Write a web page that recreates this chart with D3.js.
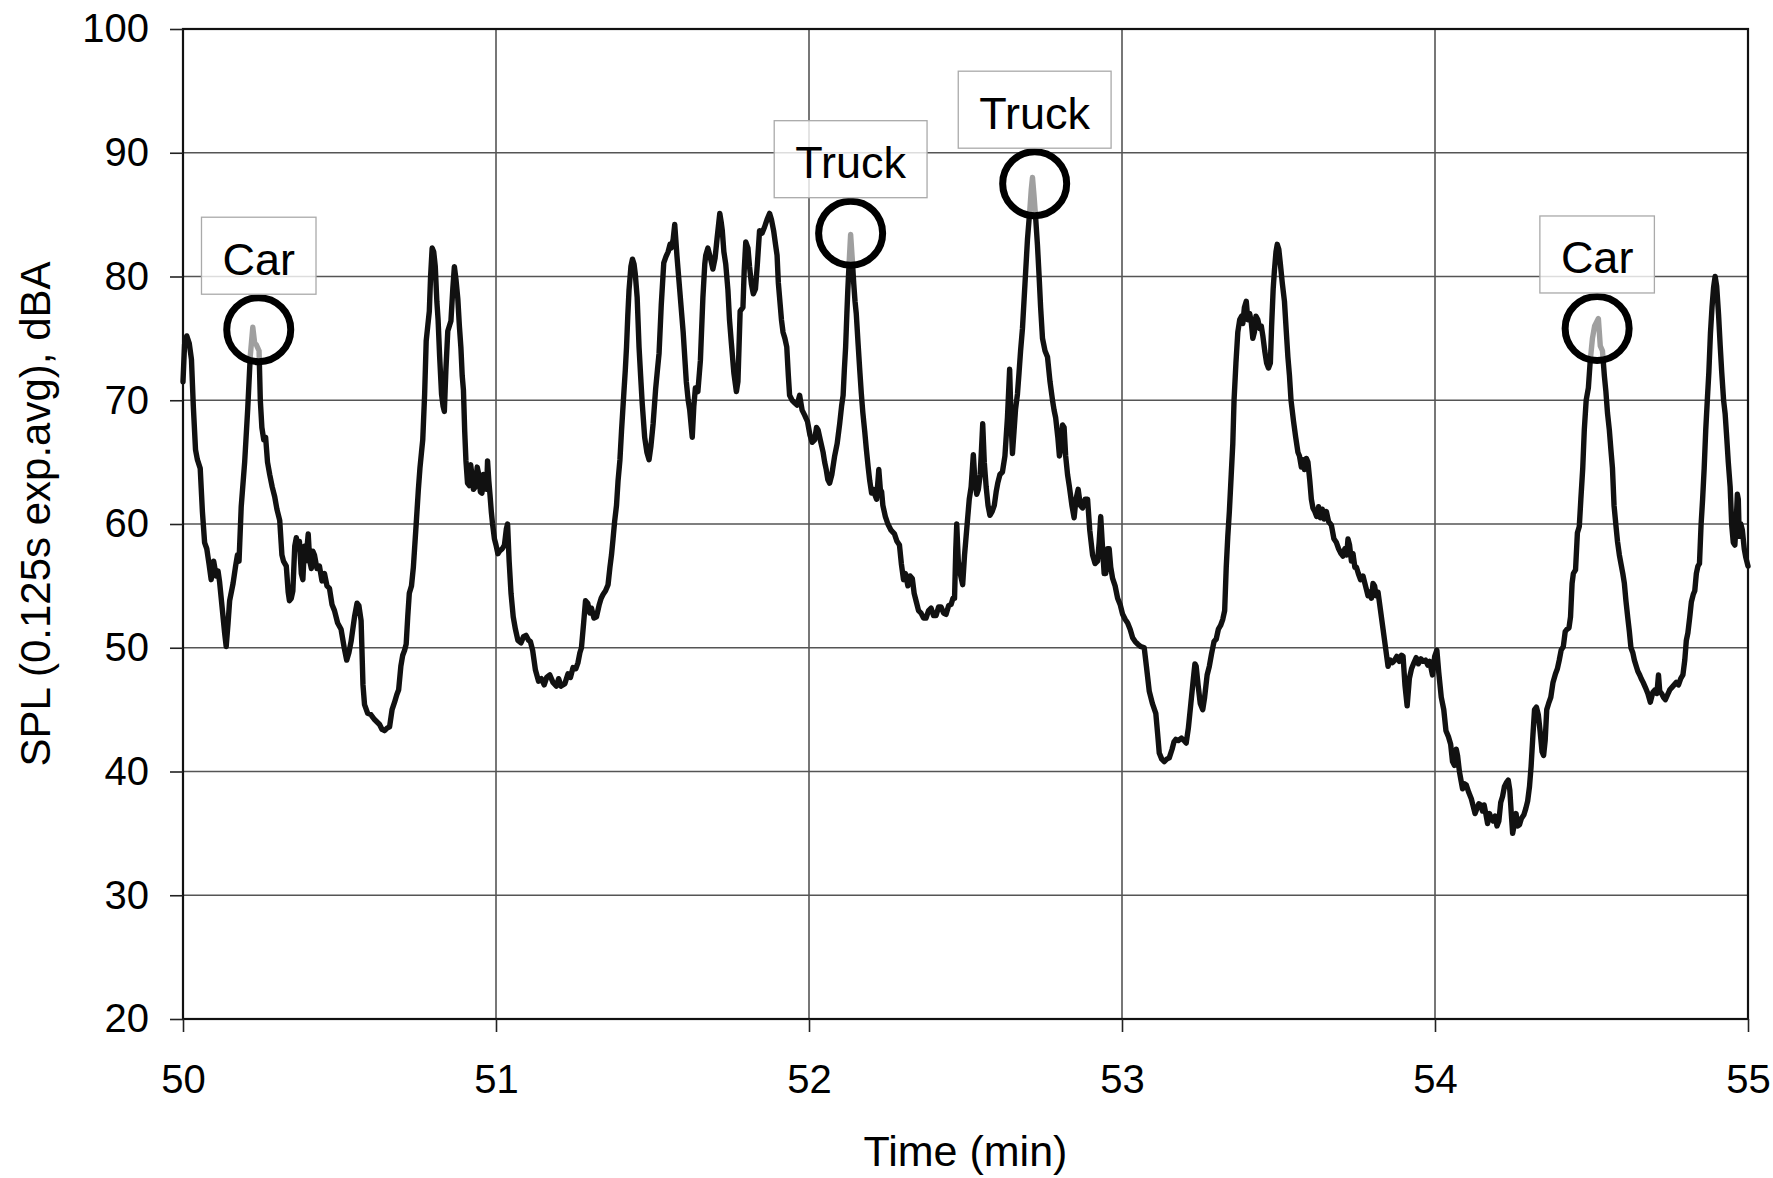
<!DOCTYPE html>
<html>
<head>
<meta charset="utf-8">
<script src="https://cdn.jsdelivr.net/npm/d3@7"></script>
<style>
  html, body { margin: 0; padding: 0; background: #fff; }
  svg { display: block; }
  text { font-family: "Liberation Sans", Arial, Helvetica, sans-serif; fill: #000; }
</style>
</head>
<body>
<svg id="chart" width="1773" height="1178"></svg>
<script>
// ---- DATA ----
const xTicks = [50, 51, 52, 53, 54, 55];
const yTicks = [20, 30, 40, 50, 60, 70, 80, 90, 100];
const xTitle = "Time (min)";
const yTitle = "SPL (0.125s exp.avg), dBA";

const timeMin = [
50.000,50.005,50.012,50.020,50.027,50.033,50.040,50.046,50.055,50.062,50.069,50.076,50.083,50.090,50.098,50.106,50.112,50.117,50.126,50.133,
50.138,50.144,50.149,50.160,50.168,50.174,50.179,50.186,50.197,50.207,50.215,50.223,50.229,50.234,50.243,50.247,50.252,50.258,50.264,50.270,
50.277,50.285,50.293,50.300,50.309,50.316,50.321,50.330,50.336,50.340,50.346,50.351,50.357,50.362,50.367,50.372,50.378,50.383,50.388,50.391,
50.396,50.400,50.405,50.410,50.415,50.420,50.428,50.436,50.444,50.452,50.460,50.468,50.476,50.484,50.494,50.505,50.515,50.523,50.530,50.537,
50.548,50.556,50.562,50.569,50.575,50.580,50.590,50.600,50.612,50.620,50.628,50.636,50.644,50.652,50.660,50.668,50.676,50.683,50.689,50.696,
50.702,50.708,50.713,50.718,50.723,50.730,50.736,50.745,50.752,50.757,50.762,50.766,50.772,50.777,50.782,50.787,50.791,50.796,50.801,50.806,
50.811,50.815,50.820,50.826,50.831,50.835,50.840,50.846,50.851,50.856,50.862,50.867,50.872,50.878,50.883,50.888,50.892,50.896,50.900,50.904,
50.909,50.915,50.919,50.923,50.928,50.934,50.940,50.945,50.950,50.955,50.960,50.966,50.970,50.973,50.977,50.981,50.985,50.989,50.995,51.000,
51.006,51.011,51.020,51.027,51.033,51.037,51.042,51.048,51.055,51.062,51.070,51.080,51.088,51.096,51.104,51.110,51.117,51.126,51.136,51.145,
51.154,51.162,51.172,51.182,51.193,51.200,51.208,51.220,51.230,51.238,51.246,51.255,51.262,51.268,51.273,51.280,51.286,51.293,51.300,51.305,
51.313,51.321,51.330,51.336,51.342,51.350,51.358,51.364,51.369,51.374,51.379,51.385,51.390,51.396,51.401,51.408,51.413,51.417,51.421,51.425,
51.431,51.436,51.441,51.445,51.451,51.457,51.462,51.467,51.475,51.482,51.489,51.495,51.502,51.510,51.516,51.521,51.528,51.536,51.543,51.550,
51.556,51.560,51.566,51.571,51.575,51.578,51.587,51.598,51.608,51.614,51.619,51.627,51.632,51.637,51.645,51.653,51.661,51.667,51.670,51.677,
51.685,51.693,51.700,51.706,51.715,51.720,51.723,51.728,51.734,51.741,51.746,51.752,51.760,51.768,51.773,51.780,51.789,51.793,51.798,51.805,
51.810,51.816,51.822,51.829,51.835,51.842,51.850,51.858,51.866,51.874,51.880,51.887,51.893,51.898,51.902,51.906,51.912,51.917,51.923,51.929,
51.934,51.938,51.946,51.954,51.962,51.970,51.978,51.986,51.995,52.003,52.010,52.018,52.024,52.029,52.036,52.045,52.050,52.055,52.060,52.066,
52.073,52.082,52.090,52.098,52.104,52.109,52.113,52.117,52.121,52.124,52.129,52.133,52.138,52.143,52.147,52.151,52.157,52.162,52.167,52.172,
52.178,52.183,52.189,52.194,52.200,52.205,52.210,52.216,52.223,52.228,52.232,52.236,52.244,52.252,52.262,52.273,52.281,52.289,52.295,52.302,
52.308,52.316,52.323,52.330,52.336,52.343,52.350,52.358,52.366,52.374,52.382,52.390,52.398,52.406,52.414,52.422,52.430,52.438,52.446,52.454,
52.460,52.465,52.469,52.472,52.477,52.483,52.491,52.497,52.502,52.507,52.512,52.518,52.525,52.530,52.536,52.541,52.547,52.551,52.555,52.560,
52.566,52.572,52.578,52.585,52.592,52.598,52.603,52.610,52.618,52.626,52.634,52.641,52.646,52.650,52.655,52.660,52.666,52.671,52.676,52.682,
52.690,52.698,52.705,52.710,52.714,52.719,52.724,52.730,52.735,52.740,52.746,52.754,52.762,52.770,52.778,52.783,52.788,52.795,52.800,52.804,
52.810,52.815,52.820,52.826,52.832,52.840,52.847,52.853,52.860,52.867,52.874,52.882,52.890,52.897,52.906,52.914,52.922,52.927,52.932,52.938,
52.943,52.948,52.954,52.959,52.964,52.970,52.978,52.986,52.994,53.002,53.010,53.018,53.026,53.034,53.042,53.050,53.060,53.071,53.078,53.087,
53.097,53.108,53.114,53.119,53.127,53.135,53.143,53.151,53.160,53.166,53.172,53.180,53.190,53.198,53.205,53.212,53.220,53.228,53.233,53.237,
53.243,53.250,53.258,53.264,53.272,53.279,53.286,53.294,53.301,53.308,53.315,53.322,53.328,53.333,53.338,53.343,53.349,53.354,53.358,53.364,
53.370,53.376,53.382,53.386,53.391,53.397,53.402,53.408,53.413,53.418,53.423,53.428,53.434,53.440,53.445,53.450,53.456,53.462,53.468,53.474,
53.478,53.483,53.487,53.492,53.496,53.501,53.506,53.512,53.519,53.525,53.530,53.535,53.540,53.548,53.555,53.562,53.567,53.573,53.578,53.583,
53.589,53.594,53.600,53.605,53.610,53.616,53.622,53.628,53.634,53.640,53.646,53.653,53.660,53.669,53.677,53.685,53.692,53.700,53.706,53.712,
53.718,53.722,53.727,53.733,53.738,53.744,53.749,53.755,53.762,53.770,53.778,53.786,53.792,53.797,53.802,53.807,53.812,53.818,53.826,53.834,
53.842,53.850,53.857,53.864,53.871,53.878,53.886,53.893,53.898,53.904,53.911,53.918,53.925,53.933,53.940,53.947,53.955,53.962,53.970,53.977,
53.983,53.992,53.999,54.006,54.012,54.020,54.028,54.035,54.043,54.050,54.056,54.062,54.068,54.072,54.078,54.083,54.088,54.094,54.100,54.108,
54.116,54.122,54.128,54.134,54.140,54.146,54.152,54.157,54.163,54.168,54.174,54.180,54.186,54.192,54.198,54.204,54.210,54.216,54.222,54.228,
54.234,54.239,54.244,54.248,54.254,54.259,54.264,54.270,54.276,54.284,54.290,54.296,54.302,54.307,54.313,54.318,54.324,54.330,54.336,54.342,
54.347,54.352,54.357,54.363,54.370,54.377,54.385,54.391,54.397,54.403,54.410,54.416,54.422,54.428,54.433,54.438,54.442,54.449,54.455,54.461,
54.466,54.472,54.477,54.483,54.490,54.496,54.503,54.510,54.516,54.522,54.528,54.535,54.541,54.546,54.551,54.557,54.562,54.567,54.572,54.578,
54.583,54.589,54.594,54.600,54.605,54.610,54.616,54.621,54.626,54.632,54.637,54.643,54.648,54.654,54.659,54.665,54.672,54.680,54.688,54.696,
54.703,54.709,54.714,54.718,54.724,54.730,54.736,54.743,54.750,54.757,54.764,54.771,54.778,54.785,54.792,54.798,54.803,54.808,54.814,54.819,
54.825,54.830,54.835,54.840,54.845,54.850,54.855,54.860,54.865,54.870,54.875,54.880,54.885,54.890,54.895,54.900,54.906,54.911,54.916,54.922,
54.927,54.932,54.937,54.943,54.948,54.953,54.958,54.962,54.966,54.969,54.972,54.977,54.982,54.988,54.993,55.000
];

const splDbA = [
71.5,74.5,75.2,74.6,73.3,69.5,66.0,65.2,64.5,61.0,58.5,58.0,56.8,55.5,57.0,55.8,56.2,55.3,53.0,51.2,
50.1,52.0,53.8,55.2,56.6,57.5,57.0,61.4,65.0,69.4,73.6,75.9,74.6,74.5,74.0,70.0,67.8,66.8,67.0,65.0,
64.0,63.0,62.2,61.2,60.3,57.5,57.0,56.6,54.5,53.8,54.0,54.6,58.2,58.9,58.0,58.6,56.0,55.5,58.2,57.0,
58.0,59.2,57.0,56.4,57.8,57.5,56.4,56.6,55.4,56.0,55.0,54.8,53.5,53.0,52.0,51.5,50.0,49.0,49.6,50.5,
52.5,53.6,53.4,52.2,47.0,45.4,44.7,44.6,44.2,44.0,43.8,43.4,43.3,43.5,43.6,45.0,45.6,46.2,46.6,48.5,
49.4,49.8,50.3,52.5,54.4,55.0,56.5,60.0,62.8,64.5,65.8,66.8,70.5,74.8,76.0,77.2,80.0,82.3,82.0,80.8,
78.0,76.5,73.5,70.5,69.5,69.1,72.5,75.6,76.0,76.4,79.0,80.8,79.8,78.2,76.0,74.2,72.0,70.8,67.5,65.1,
63.3,63.1,64.8,64.0,62.8,63.0,64.6,64.0,62.6,62.5,64.0,63.5,62.8,65.1,63.5,62.3,61.0,60.0,58.8,58.3,
57.6,57.8,58.0,58.3,59.6,60.0,57.0,54.4,52.5,51.5,50.6,50.4,50.9,51.0,50.6,50.5,49.8,48.2,47.3,47.5,
47.0,47.6,47.8,47.2,46.9,47.5,46.9,47.1,47.9,47.6,48.4,48.3,48.8,49.6,50.0,52.0,53.8,53.6,52.8,53.2,
52.4,52.5,53.5,54.0,54.3,54.6,55.1,56.5,57.5,58.8,60.2,61.5,63.5,65.2,67.5,70.4,72.4,74.3,76.8,78.9,
80.8,81.4,81.0,80.2,78.3,74.3,72.0,69.8,67.0,65.8,65.2,66.3,68.1,70.9,72.5,73.8,77.7,81.1,81.6,82.0,
82.6,82.3,83.0,84.2,82.8,81.7,78.9,75.5,71.5,70.0,69.2,67.0,69.5,71.0,70.7,73.2,78.3,81.0,81.7,82.3,
81.5,80.6,81.5,83.0,85.1,84.3,83.7,82.0,81.0,78.9,76.5,74.6,72.2,70.7,71.5,77.2,77.5,80.5,82.8,82.3,
80.8,79.4,78.6,79.0,81.0,83.7,83.5,84.0,84.6,85.1,84.6,83.7,82.6,81.7,79.5,78.3,76.5,75.5,75.0,74.3,
72.0,70.4,70.0,69.8,69.6,70.4,69.2,68.8,68.3,67.2,66.6,66.8,67.8,67.6,66.8,65.8,65.0,64.4,63.6,63.3,
64.0,65.5,66.5,68.1,69.5,70.4,72.5,74.3,77.0,78.9,81.5,83.4,81.5,79.4,78.0,77.0,74.5,72.5,70.6,69.0,
67.5,66.1,64.6,63.5,62.5,62.8,62.4,62.0,64.4,62.8,62.6,61.5,60.6,60.0,59.5,59.2,58.6,58.3,56.8,55.5,
56.0,55.0,55.8,55.6,54.4,53.7,53.0,52.8,52.4,52.4,53.0,53.2,52.6,52.6,53.3,53.3,52.8,52.7,53.4,53.5,
54.0,54.0,58.0,60.0,57.0,56.0,55.1,57.5,59.0,60.5,62.0,63.0,65.6,63.5,62.4,62.8,64.0,66.0,68.1,65.0,
63.0,61.5,60.7,61.0,61.5,62.6,63.3,64.0,64.2,65.5,68.6,72.5,68.0,65.7,67.5,69.3,70.5,72.2,74.0,75.8,
79.4,83.0,85.2,87.0,88.0,86.5,84.8,82.5,80.1,77.5,75.0,74.0,73.5,71.5,70.0,69.2,68.6,67.0,65.5,66.0,
68.0,67.8,65.5,64.0,63.0,61.5,60.5,62.0,62.8,61.5,61.3,62.0,62.0,59.5,57.5,56.8,57.0,58.5,60.6,58.0,
56.0,56.0,58.0,58.0,56.5,55.6,55.0,54.0,53.5,52.7,52.3,52.0,51.5,50.8,50.5,50.3,50.1,50.0,48.5,46.5,
45.5,44.7,43.0,41.5,41.0,40.8,41.0,41.1,41.8,42.4,42.6,42.5,42.7,42.5,42.3,43.5,45.5,47.5,48.7,48.5,
47.0,45.5,45.0,46.0,47.8,48.5,49.5,50.5,50.7,51.5,51.8,52.3,53.0,56.5,59.0,61.0,64.0,66.5,70.0,73.0,
75.5,76.5,76.8,76.2,77.5,78.0,76.5,77.0,76.3,75.0,75.5,76.8,76.5,75.8,76.0,75.2,74.0,73.0,72.6,73.0,
76.0,79.0,80.5,82.0,82.6,82.2,81.0,79.5,78.0,75.5,73.5,72.0,70.0,68.3,67.0,65.8,65.5,64.6,65.2,64.4,
65.3,65.0,63.5,62.0,61.3,61.0,60.6,61.4,60.5,61.2,60.4,61.0,60.2,59.9,58.8,58.5,58.0,57.6,57.4,58.0,
57.5,58.8,58.3,57.0,57.6,56.5,56.5,56.0,55.5,55.8,55.0,54.2,54.5,54.0,55.2,55.0,54.2,54.5,53.0,51.5,
50.0,48.5,49.0,48.8,49.0,49.3,48.9,49.4,49.3,47.0,45.3,47.5,48.3,48.8,49.2,48.7,49.1,48.9,49.0,48.6,
48.9,47.8,49.3,49.8,48.0,46.0,45.0,43.3,42.8,42.2,40.8,40.5,41.8,41.3,40.0,39.3,38.6,39.0,38.9,38.3,
37.8,37.2,36.6,37.0,37.4,37.3,36.8,37.3,36.5,35.8,36.6,36.2,36.0,36.4,35.6,36.0,37.5,38.0,38.8,39.1,
39.3,38.5,36.5,35.0,35.8,36.6,35.6,35.7,36.2,36.5,37.0,37.6,38.8,40.4,43.0,45.0,45.2,44.6,43.2,41.6,
41.3,42.5,45.0,45.5,46.0,47.2,47.9,48.3,49.0,49.8,50.1,51.3,51.5,51.6,52.5,55.2,56.0,56.3,59.3,59.8,
62.0,64.5,67.6,70.0,71.0,73.2,75.0,76.0,76.3,76.6,74.4,74.0,72.0,70.7,69.0,67.6,66.0,64.5,61.5,59.9,
58.6,57.5,56.8,56.0,55.2,53.8,52.4,51.3,50.0,49.6,49.0,48.5,48.1,47.8,47.5,47.2,46.8,46.3,45.6,46.4,
46.6,46.3,47.8,46.5,46.3,46.0,45.8,46.2,46.6,46.8,47.0,47.2,47.0,47.5,47.8,49.0,50.6,51.2,52.5,53.7,
54.3,54.6,56.0,56.6,56.8,59.9,62.0,64.5,67.6,70.0,72.3,75.4,77.5,79.1,80.0,79.2,76.9,74.5,72.3,70.0,
68.9,67.0,65.0,63.0,59.9,58.5,58.3,60.0,62.4,62.0,59.0,60.0,59.5,58.0,57.3,56.6
];

// Annotations: label, time of the marked peak, level at the circle centre
const annotLabels = ["Car", "Truck", "Truck", "Car"];
const annotTime   = [50.242, 52.133, 52.721, 54.518];
const annotLevel  = [75.7, 83.5, 87.5, 75.8];

// ---- CHART ----
(function draw() {
  const svg = d3.select("#chart");
  const W = 1773, H = 1178;
  const pL = 183, pR = 1748, pT = 29, pB = 1019;

  svg.append("rect").attr("width", W).attr("height", H).attr("fill", "#fff");

  const x = d3.scaleLinear().domain([50, 55]).range([pL, pR]);
  const y = d3.scaleLinear().domain([20, 100]).range([pB, pT]);

  // gridlines
  const grid = svg.append("g").attr("stroke", "#555").attr("stroke-width", 1.6);
  grid.selectAll("line.hg").data(yTicks).join("line").attr("class", "hg")
    .attr("x1", pL).attr("x2", pR)
    .attr("y1", d => y(d)).attr("y2", d => y(d));
  grid.selectAll("line.vg").data(xTicks).join("line").attr("class", "vg")
    .attr("y1", pT).attr("y2", pB)
    .attr("x1", d => x(d)).attr("x2", d => x(d));

  // data line
  const n = Math.min(timeMin.length, splDbA.length);
  const pts = d3.range(n).map(i => [timeMin[i], splDbA[i]]);
  const line = d3.line().x(d => x(d[0])).y(d => y(d[1]));
  svg.append("path").datum(pts)
    .attr("d", line)
    .attr("fill", "none")
    .attr("stroke", "#111")
    .attr("stroke-width", 5.4)
    .attr("stroke-linejoin", "round")
    .attr("stroke-linecap", "round");

  // frame
  svg.append("rect")
    .attr("x", pL).attr("y", pT)
    .attr("width", pR - pL).attr("height", pB - pT)
    .attr("fill", "none").attr("stroke", "#111").attr("stroke-width", 2.2);

  // axes
  const yAxis = svg.append("g").attr("transform", `translate(${pL},0)`)
    .call(d3.axisLeft(y).tickValues(yTicks).tickSize(13).tickPadding(21).tickFormat(d3.format("d")));
  const xAxis = svg.append("g").attr("transform", `translate(0,${pB})`)
    .call(d3.axisBottom(x).tickValues(xTicks).tickSize(13).tickPadding(33).tickFormat(d3.format("d")));
  [yAxis, xAxis].forEach(a => {
    a.select(".domain").remove();
    a.selectAll(".tick line").attr("stroke", "#222").attr("stroke-width", 1.6);
    a.selectAll(".tick text")
      .style("font-family", '"Liberation Sans", Arial, sans-serif')
      .style("font-size", "40px").attr("fill", "#000");
  });

  // axis titles
  svg.append("text")
    .attr("x", (pL + pR) / 2).attr("y", 1166)
    .attr("text-anchor", "middle")
    .style("font-size", "43px")
    .text(xTitle);
  svg.append("text")
    .attr("transform", "translate(50,514) rotate(-90)")
    .attr("text-anchor", "middle")
    .style("font-size", "42px")
    .text(yTitle);

  // annotations
  const R = 32;
  const ann = svg.append("g");
  annotLabels.forEach((lab, i) => {
    const cx = x(annotTime[i]), cy = y(annotLevel[i]);
    ann.append("circle")
      .attr("cx", cx).attr("cy", cy).attr("r", R)
      .attr("fill", "#fff").attr("fill-opacity", 0.6)
      .attr("stroke", "#000").attr("stroke-width", 7);
    const g = ann.append("g");
    const t = g.append("text")
      .attr("x", cx).attr("y", cy - R - 3.5 - 19.5)
      .attr("text-anchor", "middle")
      .style("font-size", "45px")
      .text(lab);
    const tw = t.node().getComputedTextLength();
    const bw = tw + 42, bh = 77;
    const by = cy - R - 3.5 - bh;
    g.insert("rect", "text")
      .attr("x", cx - bw / 2).attr("y", by)
      .attr("width", bw).attr("height", bh)
      .attr("fill", "#fff").attr("fill-opacity", 0.8)
      .attr("stroke", "#aaa").attr("stroke-width", 1.3);
  });
})();
</script>
</body>
</html>
